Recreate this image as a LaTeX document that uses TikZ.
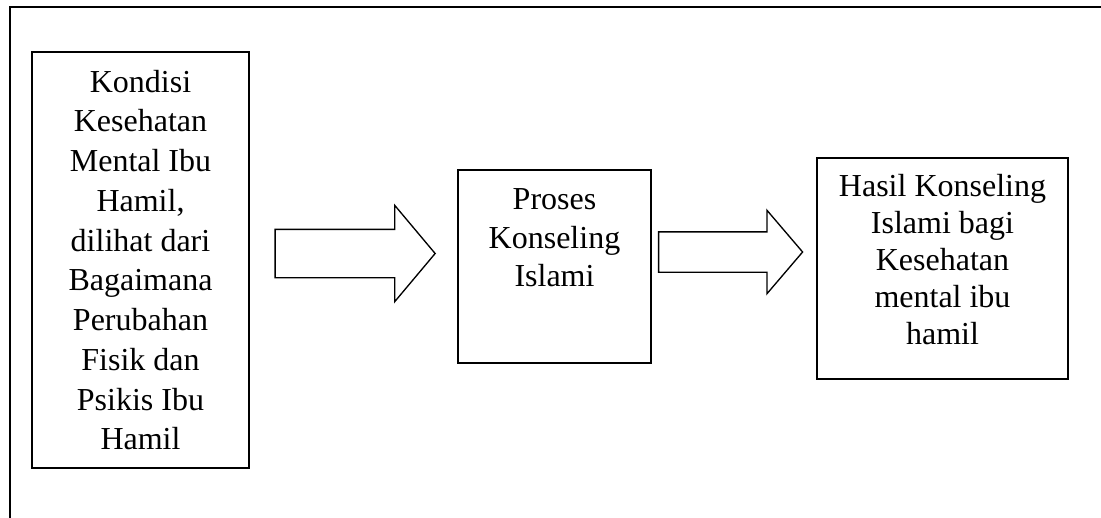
\documentclass[tikz,border=0pt]{standalone}
\usepackage{fontspec}
\setmainfont{Liberation Serif}
\usetikzlibrary{shapes.arrows}
\begin{document}
\begin{tikzpicture}[x=0.75pt,y=-0.75pt]
\tikzset{
    box/.style={draw,line width=1.3pt,inner sep=0pt},
    bigarrow/.style={draw,line width=1pt,single arrow,inner xsep=0pt,outer sep=0pt},
    frame/.style={line width=1.8pt}
}
\useasboundingbox (0,0) rectangle (1101,518);
\draw[frame] (10,518) -- (10,7) -- (1101,7);

\node[box,font=\fontsize{24}{29.8}\selectfont] (kondisi) at (140.5,260) {\parbox[c][312pt][t]{162.75pt}{\centering\vspace{13.5pt}Kondisi\\Kesehatan\\Mental Ibu\\Hamil,\\dilihat dari\\Bagaimana\\Perubahan\\Fisik dan\\Psikis Ibu\\Hamil}};
\node[box,font=\fontsize{24}{29}\selectfont] (proses) at (554.5,266.5) {\parbox[c][144.75pt][t]{144.75pt}{\centering\vspace{13.9pt}Proses\\Konseling\\Islami}};
\node[box,font=\fontsize{24}{27.8}\selectfont] (hasil) at (942.5,268.5) {\parbox[c][165.75pt][t]{188.25pt}{\centering\vspace{12pt}Hasil Konseling\\Islami bagi\\Kesehatan\\mental ibu\\hamil}};

\node[bigarrow,inner ysep=17.625pt,minimum height=120pt,minimum width=71.25pt,single arrow head extend=18pt,single arrow tip angle=100] (panah1) at (345,253.5) {};
\node[bigarrow,inner ysep=14.625pt,minimum height=108pt,minimum width=61.5pt,single arrow head extend=16.125pt,single arrow tip angle=99] (panah2) at (722,252) {};
\end{tikzpicture}
\end{document}
